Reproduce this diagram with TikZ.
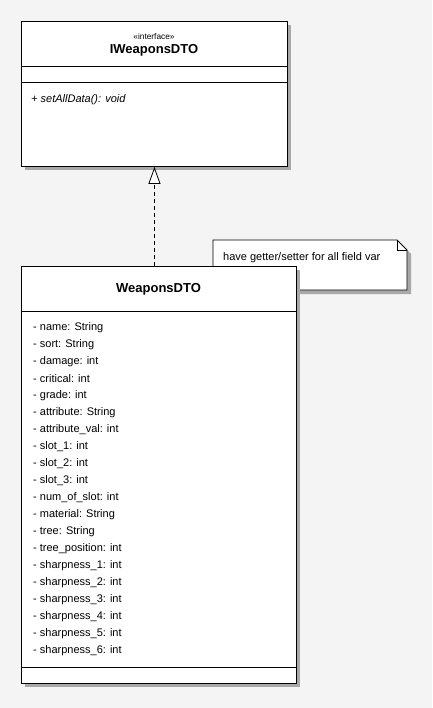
\documentclass[tikz,border=0pt]{standalone}
\usepackage{fontspec}
\setmainfont{Liberation Sans}
\usetikzlibrary{arrows.meta,shadows,calc}
\definecolor{bg}{HTML}{F4F4F4}
\definecolor{shadowgray}{HTML}{A8A8A8}
\tikzset{
  umlbox/.style={draw=black, fill=white, line width=0.9pt, anchor=north west, inner sep=0pt,
    drop shadow={shadow xshift=4pt, shadow yshift=-4pt, fill=shadowgray, opacity=1}},
  attr/.style={anchor=west, inner sep=0pt, font=\fontsize{11}{13}\selectfont},
  divider/.style={line width=0.9pt},
}
\begin{document}
\begin{tikzpicture}[x=1pt,y=-1pt]
\fill[bg] (0,0) rectangle (432,708);
\useasboundingbox (0,0) rectangle (432,708);
% interface box
\node[umlbox, minimum width=266pt, minimum height=145pt] (iface) at (21,21) {};
\draw[divider] (21,66) -- (287,66);
\draw[divider] (21,82) -- (287,82);
\node[inner sep=0pt, font=\fontsize{8.3}{10}\selectfont] (stereo) at (154,37) {«interface»};
\node[inner sep=0pt, font=\bfseries\fontsize{13}{15}\selectfont] (ititle) at (154,50.5) {IWeaponsDTO};
\node[attr, font=\itshape\fontsize{11}{13}\selectfont] (m1) at (31,100) {+ setAllData(): void};
% note
\fill[shadowgray] (217,244) -- (401,244) -- (411,254) -- (411,294) -- (217,294) -- cycle;
\draw[line width=0.8pt, fill=white] (213,240) -- (397,240) -- (407,250) -- (407,290) -- (213,290) -- cycle;
\draw[line width=0.8pt] (397,240) -- (397,250) -- (407,250);
\node[attr] (notetext) at (223,258) {have getter/setter for all field var};
% WeaponsDTO box
\node[umlbox, minimum width=275pt, minimum height=417pt] (dto) at (21,266) {};
\draw[divider] (21,311) -- (296,311);
\draw[divider] (21,667) -- (296,667);
\node[inner sep=0pt, font=\bfseries\fontsize{13}{15}\selectfont] (dtitle) at (158.5,289.5) {WeaponsDTO};
\foreach [count=\i from 0] \t in {name: String, sort: String, damage: int, critical: int, grade: int, attribute: String, attribute\_val: int, slot\_1: int, slot\_2: int, slot\_3: int, num\_of\_slot: int, material: String, tree: String, tree\_position: int, sharpness\_1: int, sharpness\_2: int, sharpness\_3: int, sharpness\_4: int, sharpness\_5: int, sharpness\_6: int}
  \node[attr] (a\i) at (33,328+17*\i) {- \t};
% realization
\draw[dashed, dash pattern=on 4pt off 3pt, line width=0.8pt, -{Triangle[open, length=17pt, width=12pt, fill=white]}] (dto.north -| iface.south) -- (iface.south);
\end{tikzpicture}
\end{document}
